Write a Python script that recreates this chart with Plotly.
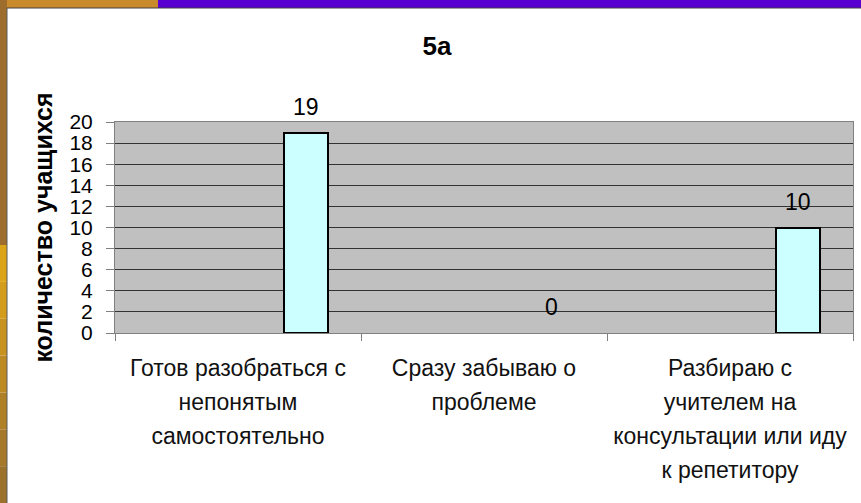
import plotly.graph_objects as go

# ---- data ----
categories = [
    "Готов разобраться с непонятым самостоятельно",
    "Сразу забываю о проблеме",
    "Разбираю с учителем на консультации или иду к репетитору",
]
label_lines = [
    ["Готов разобраться с", "непонятым", "самостоятельно"],
    ["Сразу забываю о", "проблеме"],
    ["Разбираю с", "учителем на", "консультации или иду", "к репетитору"],
]
values = [19, 0, 10]
y_ticks = list(range(0, 21, 2))
title_text = "5а"
y_title = "количество учащихся"

# ---- layout geometry (pixels) ----
W, H = 861, 503
ML, MR, MT, MB = 115, 8, 122, 170
PW, PH = W - ML - MR, H - MT - MB


def px_x(px):
    return (px - ML) / PW


def px_y(py):
    return (H - MB - py) / PH


FONT = "Liberation Sans, Arial, sans-serif"
LINE_FONT = 26
TEXT_FONT = 23

ticktext = [
    "<br>".join(f'<span style="font-size:{TEXT_FONT}px">{ln}</span>' for ln in lines)
    for lines in label_lines
]

BAR_OFFSET = 0.186
BAR_WIDTH = 0.18

fig = go.Figure()
fig.add_trace(
    go.Bar(
        x=categories,
        y=values,
        offset=BAR_OFFSET,
        width=BAR_WIDTH,
        marker=dict(
            color="#CCFFFF",
            line=dict(color="#000000", width=[2 if v > 0 else 0 for v in values]),
        ),
        hoverinfo="x+y",
    )
)

# value labels
for i, v in enumerate(values):
    fig.add_annotation(
        x=i + BAR_OFFSET + BAR_WIDTH / 2,
        y=v,
        xref="x",
        yref="y",
        text=str(v),
        showarrow=False,
        yshift=26,
        font=dict(family=FONT, size=23, color="#000000"),
    )

# decorative frame of the slide
shapes = []
shapes.append(dict(type="rect", xref="paper", yref="paper",
                   x0=px_x(0), x1=px_x(W), y0=px_y(8), y1=px_y(0),
                   fillcolor="#5800D0", line=dict(width=0), layer="above"))
shapes.append(dict(type="rect", xref="paper", yref="paper",
                   x0=px_x(0), x1=px_x(158), y0=px_y(8), y1=px_y(0),
                   fillcolor="#C98A2C", line=dict(width=0), layer="above"))
shapes.append(dict(type="rect", xref="paper", yref="paper",
                   x0=px_x(0), x1=px_x(7), y0=px_y(245), y1=px_y(0),
                   fillcolor="#9E6C2C", line=dict(width=0), layer="above"))
grad = ["#DCA417", "#D39C1B", "#C8921F", "#BC8923", "#B08026", "#A67829", "#9C712B"]
n = len(grad)
for k, c in enumerate(grad):
    y0p = 245 + k * (H - 245) / n
    y1p = 245 + (k + 1) * (H - 245) / n
    shapes.append(dict(type="rect", xref="paper", yref="paper",
                       x0=px_x(0), x1=px_x(7), y0=px_y(y1p), y1=px_y(y0p),
                       fillcolor=c, line=dict(width=0), layer="above"))
shapes.append(dict(type="line", xref="paper", yref="paper",
                   x0=px_x(7), x1=px_x(W), y0=px_y(8), y1=px_y(8),
                   line=dict(color="#404040", width=1), layer="above"))
shapes.append(dict(type="line", xref="paper", yref="paper",
                   x0=px_x(7), x1=px_x(7), y0=px_y(H), y1=px_y(8),
                   line=dict(color="#5a5a5a", width=1), layer="above"))

fig.update_layout(
    width=W,
    height=H,
    margin=dict(l=ML, r=MR, t=MT, b=MB, pad=0),
    paper_bgcolor="#FFFFFF",
    plot_bgcolor="#C0C0C0",
    showlegend=False,
    bargap=0,
    title=dict(
        text=f"<b>{title_text}</b>",
        x=437 / W,
        xanchor="center",
        y=1 - 46 / H,
        yanchor="middle",
        font=dict(family=FONT, size=26, color="#000000"),
    ),
    font=dict(family=FONT, color="#000000"),
    shapes=shapes,
)

fig.update_xaxes(
    type="category",
    tickson="boundaries",
    ticks="outside",
    ticklen=7,
    tickcolor="#808080",
    tickwidth=1,
    showgrid=False,
    showline=True,
    linecolor="#808080",
    linewidth=1,
    mirror=True,
    tickvals=categories,
    ticktext=ticktext,
    tickangle=0,
    tickfont=dict(family=FONT, size=LINE_FONT, color="#111111"),
    ticklabelstandoff=11,
    range=[-0.5, len(categories) - 0.5],
    fixedrange=True,
)

fig.update_yaxes(
    range=[0, 20],
    tickvals=y_ticks,
    ticks="outside",
    ticklen=8,
    tickcolor="#808080",
    tickwidth=1,
    showgrid=True,
    gridcolor="#333333",
    gridwidth=1,
    showline=True,
    linecolor="#808080",
    linewidth=1,
    mirror=True,
    zeroline=False,
    tickfont=dict(family=FONT, size=21, color="#000000"),
    ticklabelstandoff=9,
    title=dict(
        text=f"<b>{y_title}</b>",
        font=dict(family=FONT, size=25, color="#000000"),
        standoff=9,
    ),
    fixedrange=True,
)

fig.write_html(
    "out.html",
    config={"displayModeBar": False},
    post_script="document.body.style.margin='0';document.body.style.overflow='hidden';",
)
